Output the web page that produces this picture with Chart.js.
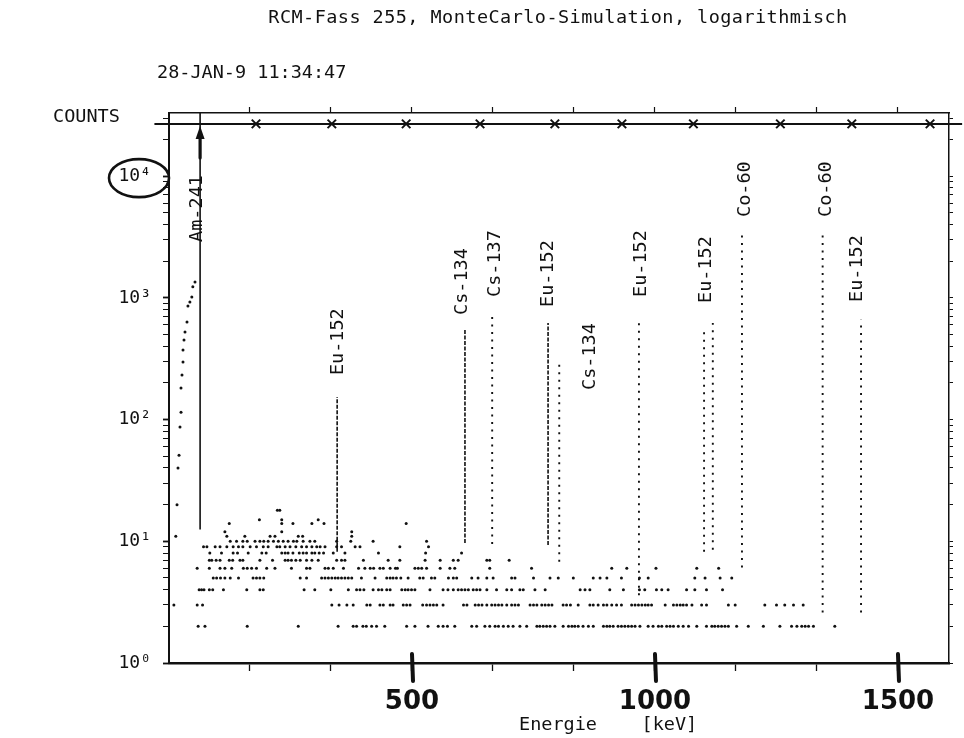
<!DOCTYPE html>
<html>
<head>
<meta charset="utf-8">
<script src="https://cdn.jsdelivr.net/npm/chart.js@4/dist/chart.umd.min.js"></script>
<style>
  html, body { margin: 0; padding: 0; background: #fff; }
  canvas { display: block; }
</style>
</head>
<body>
<canvas id="spectrum" width="964" height="738"></canvas>
<script>
// Channel energies (keV) of the plotted spectrum points, one list per count level
const row2 = [60, 74, 161, 266, 348, 379, 386, 399, 406, 417, 427, 444, 489, 506, 533, 554, 564, 573, 588, 623, 633, 650, 660, 671, 678, 688, 698, 708, 722, 736, 757, 763, 770, 777, 784, 794, 811, 822, 829, 835, 842, 852, 863, 873, 894, 901, 907, 914, 924, 931, 938, 945, 952, 959, 969, 986, 996, 1007, 1014, 1024, 1031, 1038, 1048, 1058, 1069, 1086, 1106, 1117, 1123, 1130, 1137, 1144, 1151, 1168, 1192, 1223, 1257, 1281, 1292, 1302, 1309, 1316, 1326, 1370];
const row3 = [10, 58, 69, 335, 350, 366, 379, 407, 414, 434, 441, 455, 461, 482, 489, 496, 522, 530, 537, 544, 551, 564, 606, 613, 630, 637, 644, 654, 664, 671, 678, 685, 695, 705, 712, 719, 743, 750, 757, 767, 774, 781, 788, 811, 818, 826, 842, 866, 873, 883, 894, 901, 911, 921, 931, 952, 959, 966, 973, 980, 986, 993, 1021, 1038, 1045, 1052, 1058, 1065, 1076, 1096, 1106, 1151, 1165, 1226, 1250, 1267, 1285, 1305];
const row4 = [62, 67, 72, 83, 90, 112, 160, 187, 194, 278, 300, 333, 369, 386, 393, 401, 420, 431, 438, 448, 455, 479, 486, 492, 499, 506, 537, 564, 574, 585, 595, 602, 609, 616, 626, 633, 640, 654, 674, 695, 705, 722, 729, 753, 774, 846, 856, 866, 907, 935, 968, 979, 1003, 1014, 1027, 1065, 1082, 1106, 1139];
const row5 = [91, 98, 106, 115, 126, 143, 173, 180, 187, 195, 270, 283, 314, 321, 328, 335, 342, 348, 355, 362, 369, 376, 396, 424, 448, 455, 461, 468, 477, 492, 516, 523, 540, 547, 575, 585, 592, 623, 636, 654, 667, 705, 712, 750, 784, 801, 832, 873, 887, 901, 931, 968, 986, 1082, 1103, 1134, 1158];
const row6 = [58, 83, 105, 115, 129, 153, 161, 170, 180, 201, 218, 252, 283, 290, 321, 328, 338, 359, 390, 403, 414, 421, 434, 441, 455, 466, 470, 506, 513, 520, 530, 558, 578, 588, 660, 746, 911, 942, 1002, 1086, 1131];
const row7 = [83, 88, 97, 105, 124, 131, 146, 152, 187, 213, 239, 245, 252, 261, 270, 283, 294, 307, 345, 355, 362, 400, 451, 475, 527, 558, 585, 595, 654, 660, 700];
const row8 = [84, 108, 132, 141, 163, 191, 200, 232, 239, 245, 255, 268, 276, 283, 294, 300, 309, 318, 338, 362, 431, 528, 602];
const row9 = [71, 78, 95, 105, 119, 132, 143, 152, 167, 180, 194, 204, 222, 228, 239, 249, 261, 273, 283, 294, 304, 311, 321, 345, 355, 383, 393, 475, 534];
const row10 = [126, 139, 152, 161, 177, 187, 195, 204, 215, 225, 235, 245, 256, 263, 276, 290, 300, 345, 374, 420, 530];
const row11 = [119, 156, 208, 218, 266, 275, 376];
const row12 = [115, 232, 376];
const row14 = [124, 232, 255, 294, 319, 488];
const row15 = [186, 232, 307];
const row18 = [223, 228];
const rowCounts = [2, 3, 4, 5, 6, 7, 8, 9, 10, 11, 12, 14, 15, 18];
const rowEnergies = [row2, row3, row4, row5, row6, row7, row8, row9, row10, row11, row12, row14, row15, row18];

// Low-energy rise up to the Am-241 line
const lowE = [14, 16.5, 18.5, 20.6, 22.6, 24.7, 24.7, 26.7, 28.8, 28.8, 30.9, 32.9, 37, 39, 43, 47, 49, 53.5];
const lowC = [11, 20, 40, 51, 87, 115, 182, 232, 297, 373, 451, 525, 634, 857, 925, 1017, 1231, 1352];

// Peak columns: energy, lowest and highest count of each line
const peakE    = [64, 346, 609, 665, 780, 803, 967, 1101, 1119, 1179, 1345, 1424];
const peakLow  = [12.5, 8.2, 9.7, 9.5, 9.3, 6.8, 3.6, 8.2, 8.5, 6.1, 2.6, 2.6];
const peakHigh = [33000, 153, 545, 751, 620, 307, 637, 580, 620, 3400, 3300, 660];

// Nuclide labels: text, energy and count where the (upright) text starts
const labelText = ['Am-241', 'Eu-152', 'Cs-134', 'Cs-137', 'Eu-152', 'Cs-134', 'Eu-152', 'Eu-152', 'Co-60', 'Co-60', 'Eu-152'];
const labelE    = [58, 348, 603, 671, 780, 866, 971, 1105, 1185, 1353, 1416];
const labelC    = [2880, 232, 723, 1017, 841, 175, 1017, 908, 4620, 4620, 925];

// Upper marker line with cross marks
const markerE = [179, 335, 488, 640, 794, 932, 1079, 1258, 1405, 1566];
const markerLevel = 26850;
const markerFrom = -30;
const markerTo = 1632;

// Axes
const xMin = 0, xMax = 1605;
const yMin = 1, yMax = 33000;
const xTickValues = [500, 1000, 1500];
const xTickLabels = ['500', '1000', '1500'];
const xMinorTicks = [166.67, 333.33, 666.67, 833.33, 1166.67, 1333.33];
const yTickLabels = ['10⁰', '10¹', '10²', '10³', '10⁴'];

const INK = '#111';
const MONO = '"DejaVu Sans Mono", "DejaVu Sans", monospace';

// ---- build datasets ----
const spectrumPoints = [];
rowEnergies.forEach((list, i) => list.forEach(e => spectrumPoints.push({ x: e, y: rowCounts[i] })));
lowE.forEach((e, i) => spectrumPoints.push({ x: e, y: lowC[i] }));

const denseColumns = new Set([1, 2, 4]);
const datasets = [{
  label: 'Spektrum',
  data: spectrumPoints,
  showLine: false,
  pointRadius: 1.5,
  pointBackgroundColor: INK,
  pointBorderWidth: 0
}];
peakE.forEach((e, i) => {
  datasets.push({
    label: 'Linie ' + e,
    data: [{ x: e, y: peakLow[i] }, { x: e, y: peakHigh[i] }],
    showLine: true,
    borderColor: INK,
    borderWidth: i === 0 ? 1.6 : (denseColumns.has(i) ? 1.6 : 1.9),
    borderDash: i === 0 ? [] : (denseColumns.has(i) ? [4, 1.5] : [2, 5.5]),
    pointRadius: 0
  });
});
const markerData = [{ x: markerFrom, y: markerLevel }]
  .concat(markerE.map(e => ({ x: e, y: markerLevel })))
  .concat([{ x: markerTo, y: markerLevel }]);
datasets.push({
  label: 'Marker',
  data: markerData,
  showLine: true,
  borderColor: INK,
  borderWidth: 2,
  pointStyle: 'crossRot',
  pointRadius: ctx => (ctx.dataIndex === 0 || ctx.dataIndex === markerData.length - 1) ? 0 : 6,
  pointBorderColor: INK,
  pointBorderWidth: 2,
  clip: false
});

// ---- tick helpers ----
function logTicks(scale) {
  const t = [];
  for (let k = 0; k <= 4; k++) {
    for (let m = 1; m <= 9; m++) {
      const v = m * Math.pow(10, k);
      if (v <= yMax) t.push({ value: v });
    }
  }
  scale.ticks = t;
}
function isDecade(v) {
  const l = Math.log10(v);
  return Math.abs(l - Math.round(l)) < 1e-9;
}
function energyTicks(scale) {
  scale.ticks = xMinorTicks.concat(xTickValues).sort((a, b) => a - b).map(v => ({ value: v }));
}

// ---- text, hand annotations, background ----
const annotations = {
  id: 'annotations',
  beforeDraw(chart) {
    const c = chart.ctx;
    c.save();
    c.fillStyle = '#fff';
    c.fillRect(0, 0, chart.width, chart.height);
    c.restore();
  },
  afterDraw(chart) {
    const ctx = chart.ctx;
    const xs = chart.scales.x, ys = chart.scales.y, area = chart.chartArea;
    ctx.save();
    ctx.fillStyle = INK;
    ctx.strokeStyle = INK;
    ctx.font = '18.5px ' + MONO;
    ctx.textBaseline = 'middle';

    ctx.textAlign = 'center';
    ctx.letterSpacing = '0.45px';
    ctx.fillText('RCM-Fass 255, MonteCarlo-Simulation, logarithmisch', 558, 18);
    ctx.letterSpacing = '0px';
    ctx.textAlign = 'left';
    ctx.fillText('28-JAN-9 11:34:47', 157, 73);
    ctx.fillText('COUNTS', 53, 117);
    ctx.fillText('Energie    [keV]', 519, 725);

    // nuclide labels, written upwards
    labelText.forEach((t, i) => {
      const px = xs.getPixelForValue(labelE[i]);
      const py = ys.getPixelForValue(labelC[i]);
      ctx.save();
      ctx.translate(px, py);
      ctx.rotate(-Math.PI / 2);
      ctx.textAlign = 'left';
      ctx.fillText(t, 0, 0);
      ctx.restore();
    });

    // hand-drawn ring around the 10^4 label
    const y4 = ys.getPixelForValue(1e4);
    ctx.lineWidth = 2.6;
    ctx.beginPath();
    ctx.ellipse(area.left - 30, y4 + 2, 30, 19, 0, 0, Math.PI * 2);
    ctx.stroke();

    // arrow on the Am-241 line
    const ax = xs.getPixelForValue(peakE[0]);
    const ay = ys.getPixelForValue(markerLevel) + 2;
    ctx.lineWidth = 3.2;
    ctx.lineCap = 'round';
    ctx.beginPath();
    ctx.moveTo(ax, ay + 10);
    ctx.lineTo(ax, ay + 32);
    ctx.stroke();
    ctx.beginPath();
    ctx.moveTo(ax, ay);
    ctx.lineTo(ax - 4.5, ay + 13);
    ctx.lineTo(ax + 4.5, ay + 13);
    ctx.closePath();
    ctx.fill();

    // hand-drawn thick ticks at the labelled energies
    ctx.lineWidth = 4;
    xTickValues.forEach(v => {
      const px = xs.getPixelForValue(v);
      ctx.beginPath();
      ctx.moveTo(px, area.bottom - 9);
      ctx.lineTo(px + 1, area.bottom + 18);
      ctx.stroke();
    });
    ctx.restore();
  }
};

new Chart(document.getElementById('spectrum'), {
  type: 'scatter',
  data: { datasets },
  plugins: [annotations],
  options: {
    responsive: false,
    animation: false,
    devicePixelRatio: 1,
    layout: { padding: 0 },
    plugins: { legend: { display: false }, tooltip: { enabled: false }, title: { display: false } },
    elements: { line: { tension: 0 } },
    scales: {
      x: {
        type: 'linear', position: 'bottom', min: xMin, max: xMax,
        afterBuildTicks: energyTicks,
        afterFit: s => { s.height = 75; },
        border: { display: true, color: INK, width: 2.5 },
        grid: { drawOnChartArea: false, drawTicks: true, tickLength: 8, tickWidth: 1.3, tickColor: INK },
        ticks: {
          autoSkip: false, maxRotation: 0, padding: 16, color: INK,
          font: { family: '"DejaVu Sans", sans-serif', size: 26, weight: 'bold' },
          callback: v => { const i = xTickValues.indexOf(v); return i >= 0 ? xTickLabels[i] : ''; }
        }
      },
      xTop: {
        type: 'linear', position: 'top', min: xMin, max: xMax,
        afterBuildTicks: energyTicks,
        afterFit: s => { s.height = 113; },
        border: { display: true, color: INK, width: 1.5 },
        grid: { drawOnChartArea: false, drawTicks: true, tickLength: 6, tickWidth: 1.2, tickColor: INK },
        ticks: { display: false }
      },
      y: {
        type: 'logarithmic', position: 'left', min: yMin, max: yMax,
        afterBuildTicks: logTicks,
        afterFit: s => { s.width = 169; },
        border: { display: true, color: INK, width: 2 },
        grid: {
          drawOnChartArea: false, drawTicks: true, tickLength: 6, tickColor: INK,
          tickWidth: c => (c.tick && isDecade(c.tick.value)) ? 1.8 : 1
        },
        ticks: {
          autoSkip: false, padding: 12, color: INK,
          font: { family: MONO, size: 18 },
          callback: v => isDecade(v) ? yTickLabels[Math.round(Math.log10(v))] : ''
        }
      },
      yR: {
        type: 'logarithmic', position: 'right', min: yMin, max: yMax,
        afterBuildTicks: logTicks,
        afterFit: s => { s.width = 15; },
        border: { display: true, color: INK, width: 1.5 },
        grid: { drawOnChartArea: false, drawTicks: true, tickLength: 4, tickWidth: 1, tickColor: INK },
        ticks: { display: false }
      }
    }
  }
});
</script>
</body>
</html>
